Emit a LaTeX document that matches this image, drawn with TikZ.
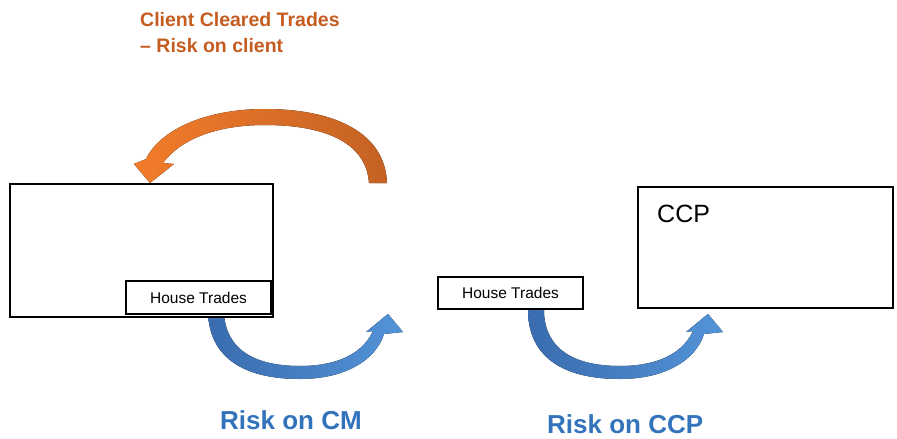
\documentclass[tikz,border=0pt]{standalone}
\usepackage{fontspec}
\setmainfont{Liberation Sans}
\definecolor{clientorange}{RGB}{197,92,32}
\definecolor{orangehead}{RGB}{242,124,42}
\definecolor{orangetail}{RGB}{196,98,36}
\definecolor{riskblue}{RGB}{50,115,188}
\definecolor{bluetail}{RGB}{58,108,175}
\definecolor{bluehead}{RGB}{82,148,215}

\begin{document}
\begin{tikzpicture}
  [x=1pt,y=-1pt]
      \tikzstyle{box_style} = [draw=black, line width=1.5, fill=white, inner sep=0pt]
      \tikzstyle{orange_arrow} = [left color=orangehead, right color=orangetail]
      \tikzstyle{blue_arrow} = [left color=bluetail, right color=bluehead]
  \useasboundingbox (0,0) rectangle (897,439);
  % curved block arrows
  \fill[orange_arrow] (387,183) .. controls (385,130) and (330,109) .. (265,109)
    .. controls (205,109) and (160,130) .. (146,159) -- (134,164) -- (150,183)
    -- (174,164) -- (163,163) .. controls (180,140) and (215,125) .. (265,125)
    .. controls (320,125) and (366,140) .. (369,183) -- cycle;
  \foreach \dx in {0,320} {
    \fill[blue_arrow, shift={(\dx,0)}] (208,300) -- (208,313) .. controls (210,362) and (250,379) .. (300,379)
      .. controls (345,379) and (376,360) .. (384,334) -- (403,332) -- (388,314)
      -- (366,332) -- (373,331) .. controls (362,355) and (335,366) .. (300,366)
      .. controls (255,366) and (226,350) .. (224,313) -- (224,300) -- cycle;
  }
  % boxes
  \node[box_style, minimum width=263pt, minimum height=133pt] (n_cm) at (141.5,250.5) {};
  \node[box_style, minimum width=145pt, minimum height=33pt, font=\fontsize{15.5}{18}\selectfont] (n_house1) at (198.5,297.5) {House Trades};
  \node[box_style, minimum width=145pt, minimum height=32pt, font=\fontsize{15.5}{18}\selectfont] (n_house2) at (510.5,293) {House Trades};
  \node[box_style, minimum width=255pt, minimum height=121pt] (n_ccp) at (765.5,247.5) {};
  \node[anchor=base west, inner sep=0pt, font=\fontsize{25}{28}\selectfont] (t_ccp) at (657,222) {CCP};
  % labels
  \node[anchor=base west, inner sep=0pt, align=left, text=clientorange, font=\fontsize{19.5}{26}\selectfont\bfseries] (t_client) at (140,52) {Client Cleared Trades\\– Risk on client};
  \node[anchor=base west, inner sep=0pt, text=riskblue, font=\fontsize{26}{29}\selectfont\bfseries] (t_cm) at (220,429) {Risk on CM};
  \node[anchor=base west, inner sep=0pt, text=riskblue, font=\fontsize{26}{29}\selectfont\bfseries] (t_ccprisk) at (547,433) {Risk on CCP};
\end{tikzpicture}
\end{document}
